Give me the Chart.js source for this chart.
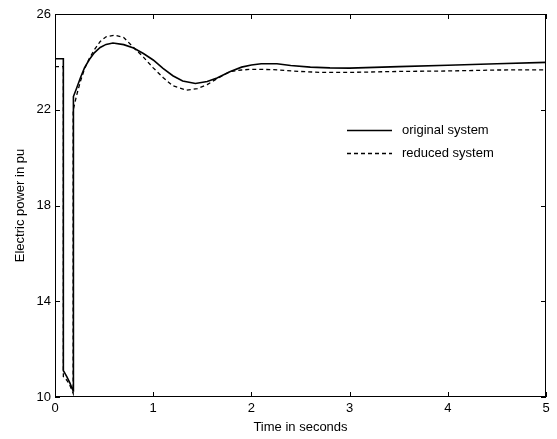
<!DOCTYPE html>
<html>
<head>
<meta charset="utf-8">
<script src="https://cdn.jsdelivr.net/npm/chart.js@4.4.0/dist/chart.umd.min.js"></script>
<style>
  html, body { margin: 0; padding: 0; background: #fff; }
  #wrap { width: 557px; height: 439px; }
</style>
</head>
<body>
<div id="wrap"><canvas id="power-chart" width="557" height="439"></canvas></div>
<script>
// Electric power response after a fault (0.085 s - 0.185 s)
const timeOriginal = [0, 0.085, 0.085, 0.1, 0.12, 0.15, 0.18, 0.185, 0.185, 0.19, 0.22, 0.26, 0.3, 0.35, 0.4, 0.46, 0.52, 0.59, 0.7, 0.8, 0.9, 1.0, 1.1, 1.2, 1.3, 1.43, 1.55, 1.65, 1.78, 1.9, 2.0, 2.1, 2.26, 2.4, 2.6, 2.8, 3.0, 3.5, 4.0, 4.5, 5.0];
const powerOriginal = [24.13, 24.13, 11.1, 11.0, 10.85, 10.6, 10.3, 10.25, 22.5, 22.55, 22.9, 23.35, 23.75, 24.1, 24.38, 24.6, 24.73, 24.79, 24.72, 24.58, 24.35, 24.08, 23.73, 23.42, 23.2, 23.1, 23.18, 23.33, 23.59, 23.78, 23.87, 23.92, 23.92, 23.85, 23.78, 23.75, 23.74, 23.8, 23.86, 23.92, 23.98];

const timeReduced = [0, 0.085, 0.085, 0.1, 0.12, 0.15, 0.18, 0.185, 0.185, 0.19, 0.22, 0.26, 0.3, 0.35, 0.4, 0.46, 0.52, 0.61, 0.7, 0.8, 0.9, 1.0, 1.1, 1.2, 1.34, 1.45, 1.55, 1.65, 1.78, 1.9, 2.0, 2.2, 2.5, 2.7, 3.0, 3.5, 4.0, 4.5, 5.0];
const powerReduced = [23.8, 23.8, 10.85, 10.8, 10.7, 10.5, 10.2, 10.15, 22.0, 22.07, 22.6, 23.2, 23.7, 24.15, 24.5, 24.85, 25.05, 25.12, 25.02, 24.6, 24.2, 23.75, 23.35, 23.0, 22.82, 22.88, 23.05, 23.3, 23.59, 23.66, 23.69, 23.68, 23.6, 23.56, 23.56, 23.6, 23.62, 23.66, 23.67];

const seriesNames = ['original system', 'reduced system'];
const xTicks = [0, 1, 2, 3, 4, 5];
const yTicks = [10, 14, 18, 22, 26];

const FONT = 'Liberation Sans, Arial, sans-serif';

function toPoints(xs, ys) {
  return xs.map((x, i) => ({ x: x, y: ys[i] }));
}

// box around the plot with inward tick marks on all four sides
const boxTicks = {
  id: 'boxTicks',
  afterDraw(chart) {
    const { ctx, chartArea: a, scales } = chart;
    const len = 5;
    ctx.save();
    ctx.strokeStyle = '#000';
    ctx.lineWidth = 1;
    ctx.strokeRect(a.left + 0.5, a.top + 0.5, a.right - a.left - 1, a.bottom - a.top - 1);
    ctx.beginPath();
    xTicks.forEach(v => {
      const px = Math.round(scales.x.getPixelForValue(v)) + 0.5;
      ctx.moveTo(px, a.bottom); ctx.lineTo(px, a.bottom - len);
      ctx.moveTo(px, a.top); ctx.lineTo(px, a.top + len);
    });
    yTicks.forEach(v => {
      const py = Math.round(scales.y.getPixelForValue(v)) + 0.5;
      ctx.moveTo(a.left, py); ctx.lineTo(a.left + len, py);
      ctx.moveTo(a.right, py); ctx.lineTo(a.right - len, py);
    });
    ctx.stroke();
    ctx.restore();
  }
};

// legend drawn inside the plot, right of centre
const innerLegend = {
  id: 'innerLegend',
  afterDraw(chart) {
    const { ctx } = chart;
    const x0 = 347, x1 = 392, rows = [130, 153];
    ctx.save();
    ctx.font = '13px ' + FONT;
    ctx.fillStyle = '#000';
    ctx.textBaseline = 'middle';
    chart.data.datasets.forEach((ds, i) => {
      ctx.beginPath();
      ctx.strokeStyle = '#000';
      ctx.lineWidth = ds.borderWidth;
      ctx.setLineDash(ds.borderDash || []);
      ctx.moveTo(x0, rows[i] + 0.5);
      ctx.lineTo(x1, rows[i] + 0.5);
      ctx.stroke();
      ctx.fillText(seriesNames[i], x1 + 10, rows[i]);
    });
    ctx.restore();
  }
};

new Chart(document.getElementById('power-chart'), {
  type: 'line',
  data: {
    datasets: [
      {
        label: seriesNames[0],
        data: toPoints(timeOriginal, powerOriginal),
        borderColor: '#000',
        borderWidth: 1.6,
        pointRadius: 0,
        tension: 0,
        fill: false
      },
      {
        label: seriesNames[1],
        data: toPoints(timeReduced, powerReduced),
        borderColor: '#000',
        borderWidth: 1.3,
        borderDash: [4, 3],
        pointRadius: 0,
        tension: 0,
        fill: false
      }
    ]
  },
  options: {
    responsive: false,
    animation: false,
    events: [],
    layout: { padding: { left: 0, top: 14, right: 11, bottom: 0 } },
    plugins: {
      legend: { display: false },
      tooltip: { enabled: false }
    },
    scales: {
      x: {
        type: 'linear',
        min: 0,
        max: 5,
        afterFit: scale => { scale.height = 42; },
        afterBuildTicks: scale => { scale.ticks = xTicks.map(v => ({ value: v })); },
        grid: { display: false, drawTicks: false },
        border: { display: false },
        ticks: { color: '#000', padding: 4, font: { family: FONT, size: 13 } },
        title: {
          display: true,
          text: 'Time in seconds',
          color: '#000',
          font: { family: FONT, size: 13 },
          padding: { top: 0, bottom: 4 }
        }
      },
      y: {
        type: 'linear',
        min: 10,
        max: 26,
        afterFit: scale => { scale.width = 55; },
        afterBuildTicks: scale => { scale.ticks = yTicks.map(v => ({ value: v })); },
        grid: { display: false, drawTicks: false },
        border: { display: false },
        ticks: { color: '#000', padding: 4, font: { family: FONT, size: 13 } },
        title: {
          display: true,
          text: 'Electric power in pu',
          color: '#000',
          font: { family: FONT, size: 13 },
          padding: { top: 13, bottom: 0 }
        }
      }
    }
  },
  plugins: [boxTicks, innerLegend]
});
</script>
</body>
</html>
